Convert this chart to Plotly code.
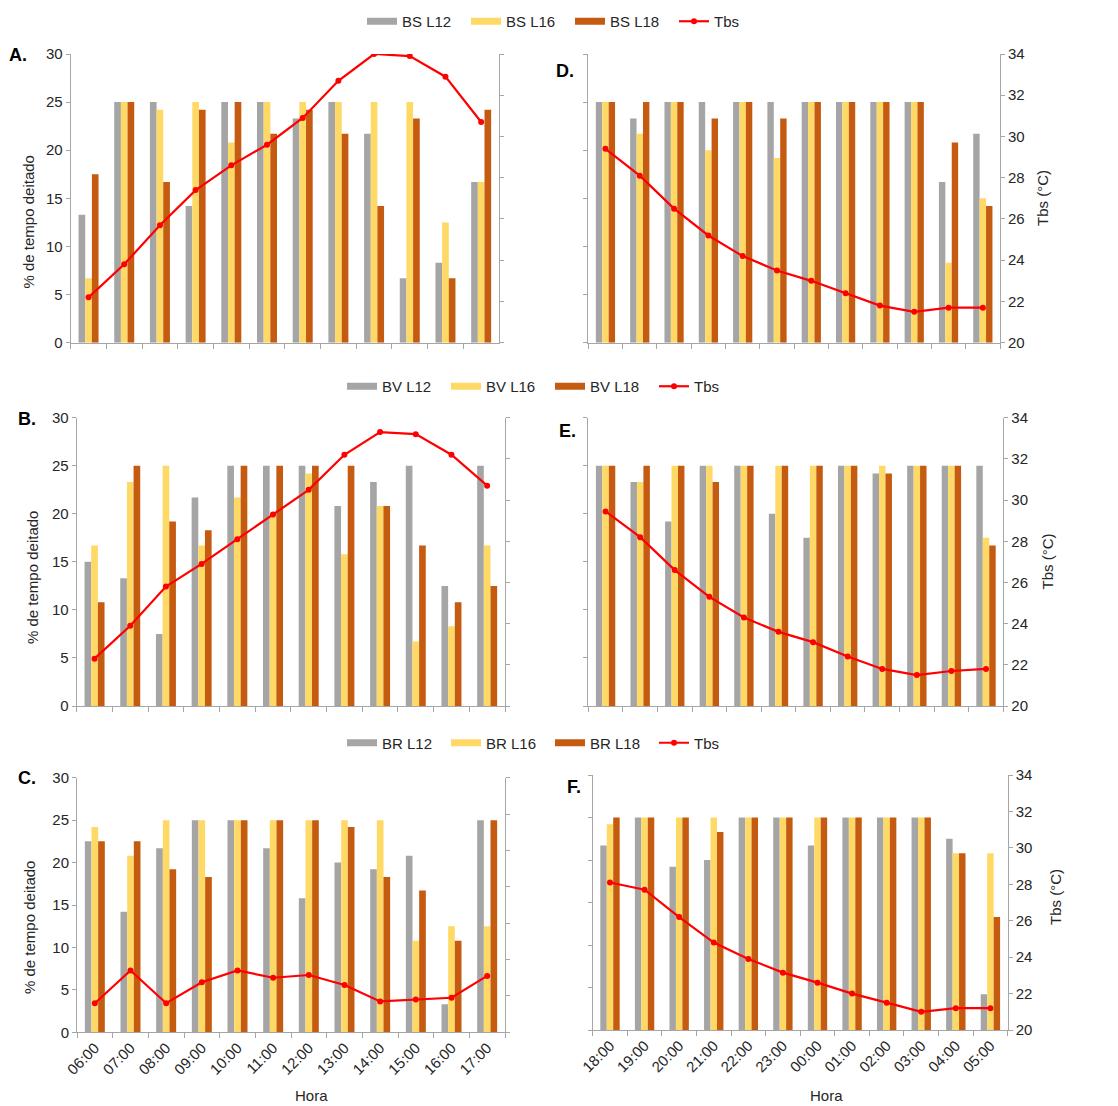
import plotly.graph_objects as go

W, H = 1118, 1106

hours_day = ["06:00", "07:00", "08:00", "09:00", "10:00", "11:00",
             "12:00", "13:00", "14:00", "15:00", "16:00", "17:00"]
hours_night = ["18:00", "19:00", "20:00", "21:00", "22:00", "23:00",
               "00:00", "01:00", "02:00", "03:00", "04:00", "05:00"]

# BS (A, D)
bs_l12_day = [13.3, 25, 25, 14.2, 25, 25, 23.3, 25, 21.7, 6.7, 8.3, 16.7]
bs_l16_day = [6.7, 25, 24.2, 25, 20.8, 25, 25, 25, 25, 25, 12.5, 16.7]
bs_l18_day = [17.5, 25, 16.7, 24.2, 25, 21.7, 24.2, 21.7, 14.2, 23.3, 6.7, 24.2]
tbs_bs_day = [22.2, 23.8, 25.7, 27.4, 28.6, 29.6, 30.9, 32.7, 34.0, 33.9, 32.9, 30.7]
bs_l12_night = [25, 23.3, 25, 25, 25, 25, 25, 25, 25, 25, 16.7, 21.7]
bs_l16_night = [25, 21.7, 25, 20.0, 25, 19.2, 25, 25, 25, 25, 8.3, 15.0]
bs_l18_night = [25, 25, 25, 23.3, 25, 23.3, 25, 25, 25, 25, 20.8, 14.2]
tbs_bs_night = [29.4, 28.1, 26.5, 25.2, 24.2, 23.5, 23.0, 22.4, 21.8, 21.5, 21.7, 21.7]

# BV (B, E)
bv_l12_day = [15.0, 13.3, 7.5, 21.7, 25, 25, 25, 20.8, 23.3, 25, 12.5, 25]
bv_l16_day = [16.7, 23.3, 25, 16.7, 21.7, 20.0, 24.2, 15.8, 20.8, 6.7, 8.3, 16.7]
bv_l18_day = [10.8, 25, 19.2, 18.3, 25, 25, 25, 25, 20.8, 16.7, 10.8, 12.5]
tbs_bv_day = [22.3, 23.9, 25.8, 26.9, 28.1, 29.3, 30.5, 32.2, 33.3, 33.2, 32.2, 30.7]
bv_l12_night = [25, 23.3, 19.2, 25, 25, 20.0, 17.5, 25, 24.2, 25, 25, 25]
bv_l16_night = [25, 23.3, 25, 25, 25, 25, 25, 25, 25, 25, 25, 17.5]
bv_l18_night = [25, 25, 25, 23.3, 25, 25, 25, 25, 24.2, 25, 25, 16.7]
tbs_bv_night = [29.45, 28.2, 26.6, 25.3, 24.3, 23.6, 23.1, 22.4, 21.8, 21.5, 21.7, 21.8]

# BR (C, F)
br_l12_day = [22.5, 14.2, 21.7, 25, 25, 21.7, 15.8, 20.0, 19.2, 20.8, 3.3, 25]
br_l16_day = [24.2, 20.8, 25, 25, 25, 25, 25, 25, 25, 10.8, 12.5, 12.5]
br_l18_day = [22.5, 22.5, 19.2, 18.3, 25, 25, 25, 24.2, 18.3, 16.7, 10.8, 25]
tbs_br_day = [21.6, 23.4, 21.6, 22.75, 23.4, 23.0, 23.15, 22.6, 21.7, 21.8, 21.9, 23.1]
br_l12_night = [21.7, 25, 19.2, 20.0, 25, 25, 21.7, 25, 25, 25, 22.5, 4.2]
br_l16_night = [24.2, 25, 25, 25, 25, 25, 25, 25, 25, 25, 20.8, 20.8]
br_l18_night = [25, 25, 25, 23.3, 25, 25, 25, 25, 25, 25, 20.8, 13.3]
tbs_br_night = [28.1, 27.7, 26.2, 24.8, 23.9, 23.15, 22.6, 22.0, 21.5, 21.0, 21.2, 21.2]

C_L12 = "#A5A5A5"
C_L16 = "#FFD966"
C_L18 = "#C55A11"
C_TBS = "#FF0000"
AXIS_C = "#A6A6A6"
TXT_C = "#262626"
FONT = "Liberation Sans, Arial, sans-serif"


def px_x(v):
    return v / W


def px_y(v):
    return 1 - v / H


panels = [
    ("A.", "BS", hours_day, bs_l12_day, bs_l16_day, bs_l18_day, tbs_bs_day, "L", (70.7, 499.0), (54.0, 342.7), "legend"),
    ("D.", "BS", hours_night, bs_l12_night, bs_l16_night, bs_l18_night, tbs_bs_night, "R", (588.3, 1000.0), (54.0, 342.7), "legend"),
    ("B.", "BV", hours_day, bv_l12_day, bv_l16_day, bv_l18_day, tbs_bv_day, "L", (76.7, 505.0), (417.7, 706.0), "legend2"),
    ("E.", "BV", hours_night, bv_l12_night, bv_l16_night, bv_l18_night, tbs_bv_night, "R", (588.3, 1003.3), (417.7, 706.0), "legend2"),
    ("C.", "BR", hours_day, br_l12_day, br_l16_day, br_l18_day, tbs_br_day, "L", (77.0, 505.0), (777.7, 1032.3), "legend3"),
    ("F.", "BR", hours_night, br_l12_night, br_l16_night, br_l18_night, tbs_br_night, "R", (592.7, 1007.7), (775.0, 1030.0), "legend3"),
]

fig = go.Figure()
layout = {}

for i, (lab, pre, hrs, l12, l16, l18, tbs, side, xr, yr, leg) in enumerate(panels):
    xi = i + 1
    yb = 2 * i + 1
    yt = 2 * i + 2
    xname = "x" if xi == 1 else f"x{xi}"
    ybname = "y" if yb == 1 else f"y{yb}"
    ytname = f"y{yt}"
    show = side == "L"
    bottom = i >= 4
    series = ((f"{pre} L12", l12, C_L12), (f"{pre} L16", l16, C_L16), (f"{pre} L18", l18, C_L18))
    for name, vals, col in series:
        fig.add_trace(go.Bar(x=hrs, y=vals, name=name, marker=dict(color=col, line=dict(width=0)),
                             xaxis=xname, yaxis=ybname, showlegend=False,
                             offsetgroup=name[-3:]))
    if show:
        # legend entries drawn as wide bar swatches (Excel style)
        for name, vals, col in series:
            fig.add_trace(go.Scatter(x=[None], y=[None], name=name, mode="lines",
                                     line=dict(color=col, width=7), xaxis=xname, yaxis=ybname,
                                     showlegend=True, legend=leg, hoverinfo="skip"))
    fig.add_trace(go.Scatter(x=hrs, y=tbs, name="Tbs", mode="lines+markers",
                             line=dict(color=C_TBS, width=2.2), marker=dict(color=C_TBS, size=6),
                             xaxis=xname, yaxis=ytname, showlegend=show, legend=leg))

    xdom = [px_x(xr[0]), px_x(xr[1])]
    ydom = [px_y(yr[1]), px_y(yr[0])]
    xkey = "xaxis" if xi == 1 else f"xaxis{xi}"
    ybkey = "yaxis" if yb == 1 else f"yaxis{yb}"
    ytkey = f"yaxis{yt}"
    layout[xkey] = dict(domain=xdom, anchor=ybname, type="category", categoryorder="array",
                        categoryarray=hrs, range=[-0.5, 11.5], tickson="boundaries",
                        ticks="outside", ticklen=5, tickcolor=AXIS_C, showline=True,
                        linecolor=AXIS_C, linewidth=1, showgrid=False, zeroline=False,
                        showticklabels=bottom, tickangle=-45, automargin=False,
                        tickfont=dict(family=FONT, size=15, color=TXT_C), fixedrange=True)
    layout[ybkey] = dict(domain=ydom, anchor=xname, range=[0, 30], dtick=5, tick0=0,
                         ticks="outside", ticklen=4, tickcolor=AXIS_C, showline=True,
                         linecolor=AXIS_C, linewidth=1, showgrid=False, zeroline=False,
                         showticklabels=show, side="left", automargin=False,
                         tickfont=dict(family=FONT, size=15, color=TXT_C), fixedrange=True)
    layout[ytkey] = dict(overlaying=ybname, anchor=xname, side="right", range=[20, 34], dtick=2,
                         tick0=20, ticks="outside", ticklen=4, tickcolor=AXIS_C, showline=True,
                         linecolor=AXIS_C, linewidth=1, showgrid=False, zeroline=False,
                         showticklabels=not show, automargin=False,
                         tickfont=dict(family=FONT, size=15, color=TXT_C), fixedrange=True)

annotations = []
label_pos = [("A.", 18, 55), ("D.", 565, 71), ("B.", 26.5, 419), ("E.", 567.5, 431),
             ("C.", 26.5, 778), ("F.", 574, 787)]
for t, x, y in label_pos:
    annotations.append(dict(text=f"<b>{t}</b>", x=px_x(x), y=px_y(y), xref="paper", yref="paper",
                            xanchor="center", yanchor="middle", showarrow=False,
                            font=dict(family=FONT, size=18, color="#000000")))
for x, y in ((27.5, 222), (32, 578), (29, 928)):
    annotations.append(dict(text="% de tempo deitado", x=px_x(x), y=px_y(y), xref="paper", yref="paper",
                            xanchor="center", yanchor="middle", showarrow=False, textangle=-90,
                            font=dict(family=FONT, size=15, color=TXT_C)))
for x, y in ((1043, 198), (1046.5, 562), (1055, 897)):
    annotations.append(dict(text="Tbs (°C)", x=px_x(x), y=px_y(y), xref="paper", yref="paper",
                            xanchor="center", yanchor="middle", showarrow=False, textangle=-90,
                            font=dict(family=FONT, size=15, color=TXT_C)))
for x, y in ((311, 1095), (826, 1095)):
    annotations.append(dict(text="Hora", x=px_x(x), y=px_y(y), xref="paper", yref="paper",
                            xanchor="center", yanchor="middle", showarrow=False,
                            font=dict(family=FONT, size=15, color=TXT_C)))

leg_common = dict(orientation="h", xanchor="left", yanchor="middle", itemwidth=30,
                  entrywidth=59, entrywidthmode="pixels",
                  font=dict(family=FONT, size=15, color=TXT_C), bgcolor="rgba(0,0,0,0)",
                  traceorder="normal", itemclick=False, itemdoubleclick=False)

fig.update_layout(
    width=W, height=H, margin=dict(l=0, r=0, t=0, b=0, pad=0, autoexpand=False),
    paper_bgcolor="white", plot_bgcolor="white",
    barmode="group", bargap=0.44, bargroupgap=0,
    font=dict(family=FONT, size=15, color=TXT_C),
    annotations=annotations,
    legend=dict(x=px_x(362), y=px_y(21.5), **leg_common),
    legend2=dict(x=px_x(342), y=px_y(386.5), **leg_common),
    legend3=dict(x=px_x(342), y=px_y(743), **leg_common),
    **layout,
)

fig.write_html("out.html", config={"displayModeBar": False},
               post_script="document.body.style.margin='0';document.body.style.overflow='hidden';")
